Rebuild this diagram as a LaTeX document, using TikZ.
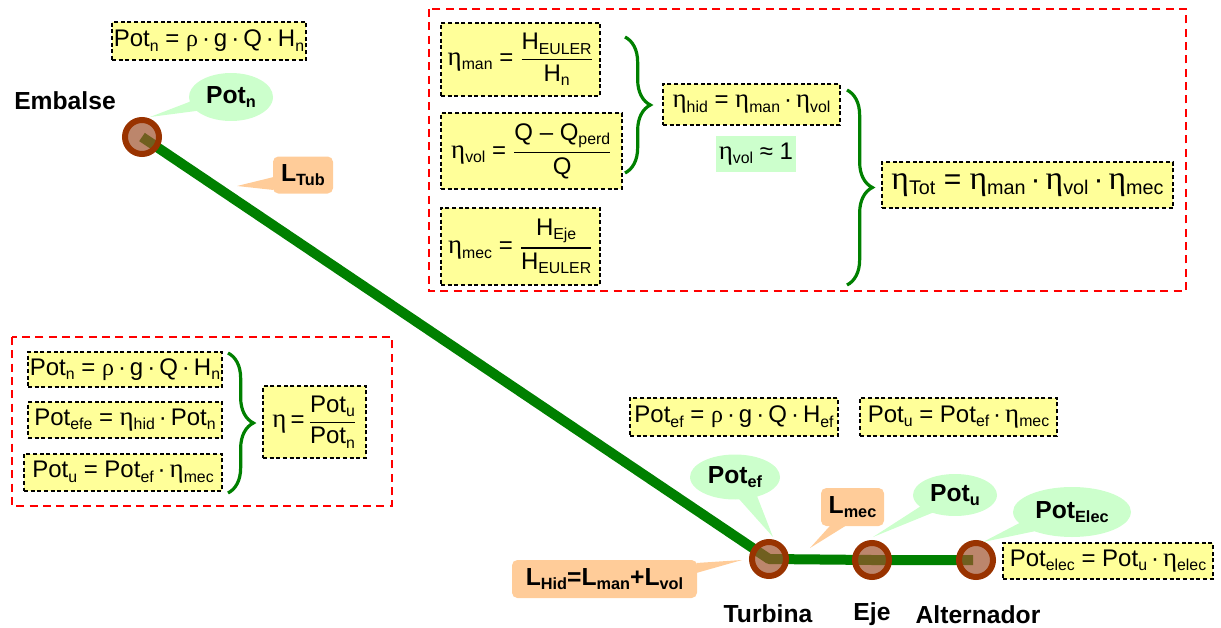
\documentclass[tikz,border=0pt]{standalone}
\usepackage{fontspec}
\setmainfont{Liberation Sans}
\newfontfamily\grk{Liberation Serif}
\usepackage{amsmath}
\usetikzlibrary{shapes.callouts,shapes.geometric,decorations.pathreplacing,backgrounds,calc}
\definecolor{boxyellow}{HTML}{FFFF99}
\definecolor{calgreen}{HTML}{CCFFCC}
\definecolor{calorange}{HTML}{FFCC99}
\definecolor{pipegreen}{HTML}{008000}
\definecolor{ringbrown}{HTML}{993300}
\definecolor{fillbrown}{HTML}{A0522D}
\definecolor{dashred}{HTML}{FF0000}
\newcommand\sbs[1]{\raisebox{-0.35ex}{\scalebox{0.66}{#1}}}
\newcommand\etaG{{\grk\scalebox{1.12}{η}}}
\newcommand\rhoG{{\grk ρ}}
\newcommand\frc[2]{$\genfrac{}{}{1pt}{0}{\text{#1}}{\text{#2}}$}
\newcommand\eqfont{\fontsize{18}{21}\selectfont}
\newcommand\lblfont{\fontsize{18.5}{21}\selectfont\bfseries}
\tikzset{
  wh/.style 2 args={minimum width=#1*0.75pt, minimum height=#2*0.75pt},
  eqbox/.style={draw=black, dash pattern=on 3pt off 2pt, line width=1pt, fill=boxyellow, inner sep=1pt, font=\eqfont},
  greenbox/.style={fill=calgreen, inner sep=1pt, font=\eqfont},
  redframe/.style={draw=dashred, dash pattern=on 6pt off 4pt, line width=1.8pt},
  bracegreen/.style={draw=pipegreen, line width=2.4pt, decorate, decoration={brace, amplitude=19pt}},
  pipe/.style={draw=pipegreen, line width=7.5pt, line join=round},
  station/.style={circle, draw=ringbrown, line width=4.5pt, fill=fillbrown, fill opacity=0.7, minimum size=25.5pt, inner sep=0pt},
  potcall/.style={ellipse callout, fill=calgreen, inner sep=0pt, callout pointer arc=24, font=\lblfont},
  lcall/.style={fill=calorange, rounded corners=4pt, inner sep=0pt, font=\lblfont},
  lbl/.style={font=\lblfont, inner sep=0pt},
}
\begin{document}
\begin{tikzpicture}[x=0.75pt, y=-0.75pt]
\useasboundingbox (0,0) rectangle (1221,628);

% stations
\node[station] (emb) at (142,137) {};
\node[station] (tur) at (769,559) {};
\node[station] (eje) at (872,560) {};
\node[station] (alt) at (976,560) {};
\begin{scope}[on background layer]
\draw[pipe] (emb.center) -- (tur.center) -- (eje.center) -- ($(alt.center)+(-3,0)$);
\end{scope}

% labels
\node[lbl] (lemb) at (65,101) {Embalse};
\node[lbl] (ltur) at (768,614) {Turbina};
\node[lbl] (leje) at (872,614) {Eje};
\node[lbl] (lalt) at (978,615) {Alternador};

% callouts
\node[potcall, wh={84}{48}, callout absolute pointer={(150,117)}] (cpotn) at (231,97) {Pot\sbs{n}};
\node[potcall, wh={90}{45}, callout absolute pointer={(773,537)}] (cpotef) at (735,477) {Pot\sbs{ef}};
\node[potcall, wh={84}{42}, callout absolute pointer={(873,537)}] (cpotu) at (955,495) {Pot\sbs{u}};
\node[potcall, wh={118}{50}, callout absolute pointer={(983,542)}] (cpotel) at (1072,512) {Pot\sbs{Elec}};

\node[lcall, wh={60}{37}] (ltub) at (303,175) {L\sbs{Tub}};
\fill[calorange] ($(ltub.west)+(1,2)$) -- (237,186) -- ($(ltub.west)+(1,15)$) -- cycle;
\node[lcall, wh={63}{38}] (lmec) at (852.5,507) {L\sbs{mec}};
\fill[calorange] ($(lmec.south)+(-22,-1)$) -- (810,548) -- ($(lmec.south)+(-6,-1)$) -- cycle;
\node[lcall, wh={185}{38}] (lhid) at (604.5,579) {L\sbs{Hid}=L\sbs{man}+L\sbs{vol}};
\fill[calorange] ($(lhid.east)+(-1,-16)$) -- (742,560) -- ($(lhid.east)+(-1,-6)$) -- cycle;

% top-left formula
\node[eqbox, wh={194}{38}] (potTop) at (209,41) {Pot\sbs{n} = \rhoG\,·\,g\,·\,Q\,·\,H\sbs{n}};

% top frame
\draw[redframe] (429,9) rectangle (1186,291);
\node[eqbox, wh={159}{73}] (etaman) at (520.5,59.5) {\etaG\sbs{man} = \frc{H\sbs{EULER}}{H\sbs{n}}};
\node[eqbox, wh={181}{76}] (etavol) at (531.5,151) {\etaG\sbs{vol} = \frc{Q – Q\sbs{perd}}{Q}};
\node[eqbox, wh={159}{77}] (etamec) at (520.5,246.5) {\etaG\sbs{mec} = \frc{H\sbs{Eje}}{H\sbs{EULER}}};
\node[eqbox, wh={177}{41}] (etahid) at (751.5,104.5) {\etaG\sbs{hid} = \etaG\sbs{man}\,·\,\etaG\sbs{vol}};
\node[greenbox, wh={80}{36}] (etavol1) at (756,154) {\etaG\sbs{vol} ≈ 1};
\node[eqbox, wh={291}{46}, font=\fontsize{22.5}{25}\selectfont] (etatot) at (1027.5,185) {\etaG\sbs{Tot} = \etaG\sbs{man}\,·\,\etaG\sbs{vol}\,·\,\etaG\sbs{mec}};
\draw[bracegreen] (625,37) -- (625,173);
\draw[bracegreen] (847,90) -- (847,285);

% left frame
\draw[redframe] (12,337) rectangle (392,506);
\node[eqbox, wh={194}{35}] (lpotn) at (125,369.5) {Pot\sbs{n} = \rhoG\,·\,g\,·\,Q\,·\,H\sbs{n}};
\node[eqbox, wh={194}{36}] (lpotefe) at (125,420) {Pot\sbs{efe} = \etaG\sbs{hid}\,·\,Pot\sbs{n}};
\node[eqbox, wh={198}{37}] (lpotu) at (123,472.5) {Pot\sbs{u} = Pot\sbs{ef}\,·\,\etaG\sbs{mec}};
\node[eqbox, wh={103}{72}] (leta) at (314.5,422) {\etaG\,=\,\frc{Pot\sbs{u}}{Pot\sbs{n}}};
\draw[bracegreen] (228,353) -- (228,493);

% middle formulas
\node[eqbox, wh={208}{38}] (mpotef) at (734,417) {Pot\sbs{ef} = \rhoG\,·\,g\,·\,Q\,·\,H\sbs{ef}};
\node[eqbox, wh={197}{38}] (mpotu) at (958.5,417) {Pot\sbs{u} = Pot\sbs{ef}\,·\,\etaG\sbs{mec}};
\node[eqbox, wh={210}{36}] (mpotel) at (1108,561) {Pot\sbs{elec} = Pot\sbs{u}\,·\,\etaG\sbs{elec}};
\end{tikzpicture}
\end{document}
